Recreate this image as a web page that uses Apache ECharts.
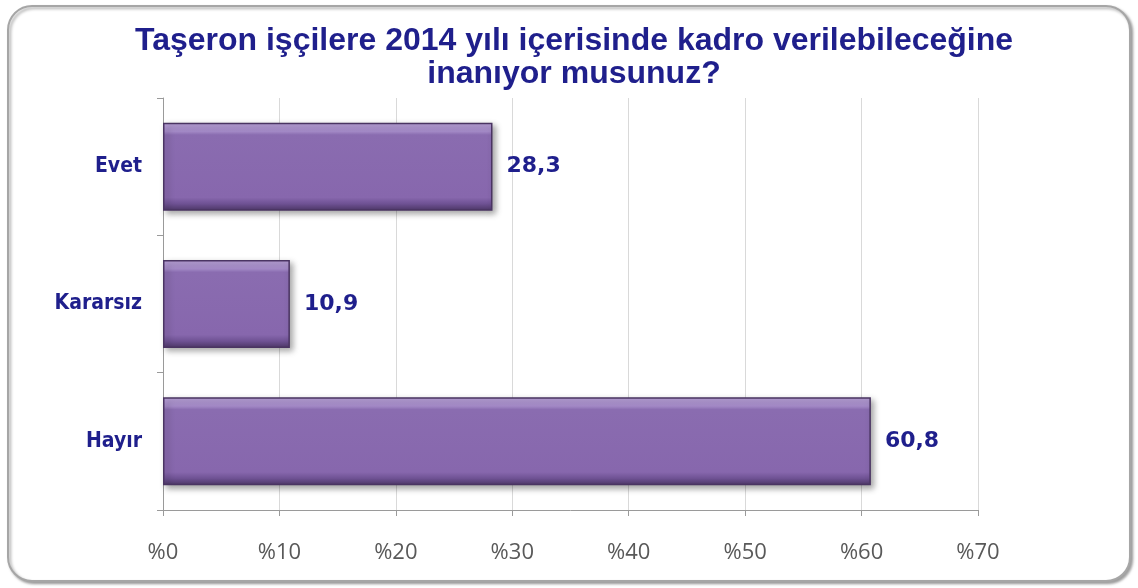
<!DOCTYPE html>
<html>
<head>
<meta charset="utf-8">
<script src="https://cdn.jsdelivr.net/npm/echarts@6/dist/echarts.min.js"></script>
<style>
  html, body { margin: 0; padding: 0; background: #fff; }
  #chart { width: 1138px; height: 588px; }
</style>
</head>
<body>
<div id="chart"></div>
<script>
// veriler
var categories = ['Evet', 'Kararsız', 'Hayır'];
var values = [28.3, 10.9, 60.8];
var titleText = 'Taşeron işçilere 2014 yılı içerisinde kadro verilebileceğine\ninanıyor musunuz?';

var chart = echarts.init(document.getElementById('chart'));

const option = {
  animation: false,
  graphic: [
    {
      type: 'rect',
      shape: { x: 8, y: 6, width: 1122, height: 575, r: 24 },
      style: { fill: '#fff', stroke: '#a6a6a6', lineWidth: 2,
               shadowBlur: 3, shadowOffsetX: 2, shadowOffsetY: 2, shadowColor: 'rgba(0,0,0,0.35)' },
      z: -10
    }
  ],
  title: {
    text: titleText,
    left: 569,
    top: 20,
    textAlign: 'center',
    textStyle: {
      color: '#1f1f8c',
      fontFamily: 'Liberation Sans',
      fontWeight: 'bold',
      fontSize: 32,
      lineHeight: 33
    }
  },
  grid: { left: 163, right: 160, top: 98, bottom: 78 },
  xAxis: {
    type: 'value',
    min: 0,
    max: 70,
    interval: 10,
    axisLine: { show: true, lineStyle: { color: '#9a9a9a' } },
    axisTick: { show: true, length: 6, lineStyle: { color: '#9a9a9a' } },
    splitLine: { show: true, lineStyle: { color: '#d9d9d9' } },
    axisLabel: {
      formatter: function (v) { return '%' + v; },
      color: '#595959',
      fontFamily: 'Open Sans',
      fontSize: 22,
      margin: 32
    }
  },
  yAxis: {
    type: 'category',
    data: categories,
    inverse: true,
    axisLine: { show: true, lineStyle: { color: '#9a9a9a' } },
    axisTick: { show: true, length: 6, lineStyle: { color: '#9a9a9a' } },
    axisLabel: {
      color: '#1f1f8c',
      fontFamily: 'DejaVu Sans Condensed, DejaVu Sans',
      fontWeight: 'bold',
      fontSize: 21,
      margin: 21
    }
  },
  series: [
    {
      type: 'bar',
      data: values,
      barWidth: 88,
      itemStyle: {
        color: {
          type: 'linear', x: 0, y: 0, x2: 0, y2: 1,
          colorStops: [
            { offset: 0, color: '#b9a2d8' },
            { offset: 0.1, color: '#a58bc9' },
            { offset: 0.14, color: '#8a6cb0' },
            { offset: 0.85, color: '#8767ad' },
            { offset: 0.92, color: '#6f5294' },
            { offset: 1, color: '#4e3868' }
          ]
        },
        borderColor: '#4a3462',
        borderWidth: 1.5,
        shadowBlur: 6,
        shadowOffsetX: 3,
        shadowOffsetY: 3,
        shadowColor: 'rgba(0,0,0,0.35)'
      },
      label: {
        show: true,
        position: 'right',
        distance: 14,
        formatter: function (p) { return String(p.value).replace('.', ','); },
        color: '#1f1f8c',
        fontFamily: 'DejaVu Sans',
        fontWeight: 'bold',
        fontSize: 22
      }
    }
  ]
};

chart.setOption(option);
window.addEventListener('resize', () => {
  chart.resize();
});
</script>
</body>
</html>
